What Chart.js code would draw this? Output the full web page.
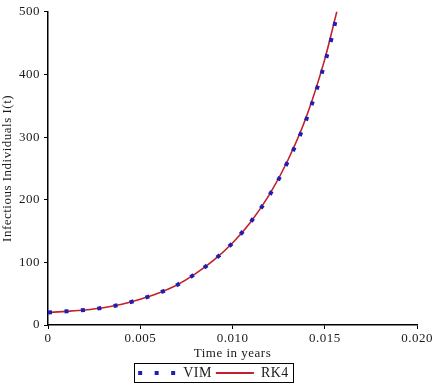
<!DOCTYPE html>
<html>
<head>
<meta charset="utf-8">
<script src="https://cdn.jsdelivr.net/npm/chart.js@4/dist/chart.umd.min.js"></script>
<style>
  html, body { margin: 0; padding: 0; background: #ffffff; }
  #wrap { width: 438px; height: 384px; position: relative; }
</style>
</head>
<body>
<div id="wrap"><canvas id="c" width="438" height="384"></canvas></div>
<script>
// ---- data ----
const timeYears = [0, 0.001, 0.002, 0.003, 0.004, 0.005, 0.006, 0.007, 0.008, 0.009, 0.010, 0.011, 0.012, 0.013, 0.014, 0.015, 0.0155, 0.0157];
const vimValues = [20, 21.8, 24, 27.5, 33, 41, 51, 64, 82, 104, 131, 165, 207, 261, 328, 418, 474, 503];
const rk4Values = [20, 21.8, 24, 27.5, 33, 41, 51, 64, 82, 104, 131, 165, 208, 263, 332, 424, 482, 506];
const seriesNames = ['VIM', 'RK4'];
const xTickValues = [0, 0.005, 0.010, 0.015, 0.020];
const yTickValues = [0, 100, 200, 300, 400, 500];
const xTitle = 'Time in years';
const yTitle = 'Infectious Individuals I(t)';

const FONT = 'Liberation Serif';
const TEXT = '#1a1a1a';
const VIM_COLOR = '#1e1eb4';
const RK4_COLOR = '#c4202c';
const VIM_DASH = [4, 12.5];
const BOTTOM_PAD = -6;
const LEGEND_SHIFT = 5;

const toPoints = (xs, ys) => xs.map((x, i) => ({ x: x, y: ys[i] }));

const spacing = {
  id: 'spacing',
  beforeUpdate(chart) { chart.ctx.letterSpacing = '0.5px'; },
  beforeLayout(chart) { chart.ctx.letterSpacing = '0.5px'; },
  afterLayout(chart) {
    if (chart.legend) { chart.legend.left += LEGEND_SHIFT; chart.legend.right += LEGEND_SHIFT; }
  },
  beforeDraw(chart) { chart.ctx.letterSpacing = '0.5px'; }
};

const legendBorder = {
  id: 'legendBorder',
  afterDraw(chart) {
    const lg = chart.legend;
    if (!lg || !lg.legendHitBoxes || !lg.legendHitBoxes.length) return;
    const hb = lg.legendHitBoxes;
    let l = Infinity, r = -Infinity, t = Infinity, b = -Infinity;
    hb.forEach(h => { l = Math.min(l, h.left); r = Math.max(r, h.left + h.width); t = Math.min(t, h.top); b = Math.max(b, h.top + h.height); });
    const cy = (t + b) / 2;
    const ctx = chart.ctx;
    ctx.save();
    ctx.strokeStyle = '#000';
    ctx.lineWidth = 1;
    ctx.setLineDash([]);
    ctx.strokeRect(Math.round(l - 4) + 0.5, Math.round(cy - 10) + 0.5, Math.round(r - l + 8), 19);
    ctx.restore();
  }
};

new Chart(document.getElementById('c'), {
  type: 'line',
  data: {
    datasets: [
      {
        label: seriesNames[0],
        data: toPoints(timeYears, vimValues),
        borderColor: VIM_COLOR,
        backgroundColor: VIM_COLOR,
        borderWidth: 4,
        borderDash: VIM_DASH,
        borderCapStyle: 'butt',
        pointRadius: 0,
        cubicInterpolationMode: 'monotone',
        fill: false
      },
      {
        label: seriesNames[1],
        data: toPoints(timeYears, rk4Values),
        borderColor: RK4_COLOR,
        backgroundColor: RK4_COLOR,
        borderWidth: 1.6,
        pointRadius: 0,
        cubicInterpolationMode: 'monotone',
        fill: false
      }
    ]
  },
  options: {
    responsive: false,
    animation: false,
    devicePixelRatio: 1,
    layout: { padding: { left: 0, right: 21, top: 11, bottom: BOTTOM_PAD } },
    plugins: {
      tooltip: { enabled: false },
      legend: {
        position: 'bottom',
        labels: {
          font: { family: FONT, size: 14 },
          color: TEXT,
          usePointStyle: true,
          pointStyle: 'line',
          pointStyleWidth: 38,
          boxHeight: 13,
          padding: 4,
          generateLabels(chart) {
            return chart.data.datasets.map((ds, i) => ({
              text: ds.label,
              datasetIndex: i,
              fillStyle: ds.borderColor,
              strokeStyle: ds.borderColor,
              fontColor: TEXT,
              lineWidth: i === 0 ? 4 : 2,
              lineDash: i === 0 ? VIM_DASH : [],
              lineDashOffset: 0,
              lineCap: 'butt',
              pointStyle: 'line',
              hidden: false
            }));
          }
        }
      }
    },
    scales: {
      x: {
        type: 'linear',
        min: 0,
        max: 0.020,
        afterBuildTicks(scale) { scale.ticks = xTickValues.map(v => ({ value: v })); },
        afterFit(scale) { scale.height = (384 - BOTTOM_PAD) - 325 - (scale.chart.legend ? scale.chart.legend.height : 0); },
        border: { display: true, color: '#000', width: 1.5 },
        grid: { display: true, drawOnChartArea: false, drawTicks: true, tickLength: 4, color: '#000', tickWidth: 1 },
        ticks: {
          font: { family: FONT, size: 13 },
          color: TEXT,
          padding: 2,
          maxRotation: 0,
          callback: v => (v === 0 ? '0' : Number(v).toFixed(3))
        },
        title: { display: true, text: xTitle, font: { family: FONT, size: 13 }, color: TEXT, padding: { top: 0, bottom: 1 } }
      },
      y: {
        type: 'linear',
        min: 0,
        max: 500,
        afterBuildTicks(scale) { scale.ticks = yTickValues.map(v => ({ value: v })); },
        afterFit(scale) { scale.width = 48; },
        border: { display: true, color: '#000', width: 1.5 },
        grid: { display: true, drawOnChartArea: false, drawTicks: true, tickLength: 4, color: '#000', tickWidth: 1 },
        ticks: {
          font: { family: FONT, size: 13 },
          color: TEXT,
          padding: 4,
          callback: v => String(v)
        },
        title: { display: true, text: yTitle, font: { family: FONT, size: 13 }, color: TEXT, padding: { top: 0, bottom: 0 } }
      }
    }
  },
  plugins: [spacing, legendBorder]
});
</script>
</body>
</html>
